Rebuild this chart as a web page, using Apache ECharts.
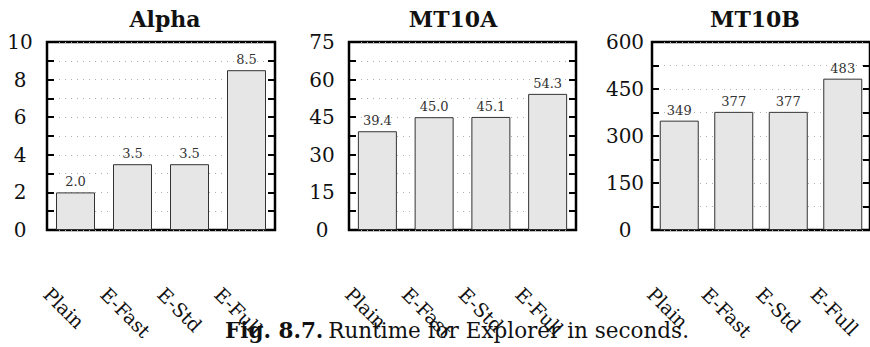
<!DOCTYPE html>
<html>
<head>
<meta charset="utf-8">
<script src="https://cdn.jsdelivr.net/npm/echarts@6/dist/echarts.min.js"></script>
<style>
  html, body { margin: 0; padding: 0; background: #fff; }
  #chart { width: 870px; height: 347px; }
</style>
</head>
<body>
<div id="chart"></div>
<script>
// Runtime of the Explorer variants on three data sets (seconds)
const categories = ['Plain', 'E-Fast', 'E-Std', 'E-Full'];

const alphaRuntime = [2.0, 3.5, 3.5, 8.5];
const mt10aRuntime = [39.4, 45.0, 45.1, 54.3];
const mt10bRuntime = [349, 377, 377, 483];

const panelTitles = ['Alpha', 'MT10A', 'MT10B'];
const panelMax = [10, 75, 600];
const panelStep = [2, 15, 150];
const labelDecimals = [1, 1, 0];

const captionBold = 'Fig. 8.7.';
const captionText = 'Runtime for Explorer in seconds.';

const panelValues = [alphaRuntime, mt10aRuntime, mt10bRuntime];

// Frame geometry of each panel
const frames = [
  { left: 47, width: 228, titleX: 165 },
  { left: 349, width: 227, titleX: 453 },
  { left: 652, width: 228, titleX: 755 }
];
const frameTop = 42;
const frameHeight = 188;

const numberFont = 'DejaVu Serif, serif';
const textFont = 'DejaVu Serif, serif';
const dotted = { color: '#b0b0b0', width: 1, type: [1, 5] };

const grids = [], xAxes = [], yAxes = [], series = [], graphics = [];

frames.forEach((f, i) => {
  grids.push({
    left: f.left, top: frameTop, width: f.width, height: frameHeight,
    show: true, borderColor: '#000', borderWidth: 2.5, backgroundColor: 'transparent'
  });
  xAxes.push({
    type: 'category', gridIndex: i, data: categories,
    axisLine: { show: false }, axisTick: { show: false },
    axisLabel: {
      interval: 0, rotate: -45, align: 'left', verticalAlign: 'top',
      margin: 25, padding: [36, 0, 0, 5],
      fontFamily: textFont, fontSize: 19, color: '#111'
    }
  });
  const tickCfg = {
    axisTick: { show: true, inside: true, length: 7, lineStyle: { color: '#000', width: 2 } },
    minorTick: { show: true, splitNumber: 2, length: 7, lineStyle: { color: '#000', width: 2 } }
  };
  yAxes.push(Object.assign({
    type: 'value', gridIndex: i, position: 'left',
    min: 0, max: panelMax[i], interval: panelStep[i],
    axisLine: { show: false },
    axisLabel: { align: 'center', margin: 27, fontFamily: numberFont, fontSize: 20, color: '#111' },
    splitLine: { show: true, lineStyle: dotted },
    minorSplitLine: { show: true, lineStyle: dotted }
  }, tickCfg));
  yAxes.push(Object.assign({
    type: 'value', gridIndex: i, position: 'right',
    min: 0, max: panelMax[i], interval: panelStep[i],
    axisLine: { show: false },
    axisLabel: { show: false },
    splitLine: { show: false }
  }, tickCfg));
  series.push({
    type: 'bar', xAxisIndex: i, yAxisIndex: i * 2,
    data: panelValues[i], barWidth: 39,
    itemStyle: { color: '#e6e6e6', borderColor: '#333', borderWidth: 1 },
    label: {
      show: true, position: 'top', distance: 4,
      fontFamily: numberFont, fontSize: 13, color: '#333',
      formatter: p => p.value.toFixed(labelDecimals[i])
    },
    z: 3
  });
  graphics.push({
    type: 'text', x: f.titleX, y: 8,
    style: { text: panelTitles[i], fontFamily: textFont, fontWeight: 'bold', fontSize: 22,
             fill: '#111', textAlign: 'center', textVerticalAlign: 'top' }
  });
});

const chart = echarts.init(document.getElementById('chart'), null, { renderer: 'svg' });
chart.setOption({
  backgroundColor: '#fff',
  animation: false,
  grid: grids,
  xAxis: xAxes,
  yAxis: yAxes,
  series: series,
  title: {
    left: 220, top: 314,
    text: '{b|' + captionBold + '} {r|' + captionText + '}',
    textStyle: {
      fontWeight: 'normal',
      rich: {
        b: { fontFamily: textFont, fontWeight: 'bold', fontSize: 21.5, color: '#111' },
        r: { fontFamily: textFont, fontWeight: 'normal', fontSize: 21.5, color: '#111' }
      }
    }
  },
  graphic: graphics
});
</script>
</body>
</html>
